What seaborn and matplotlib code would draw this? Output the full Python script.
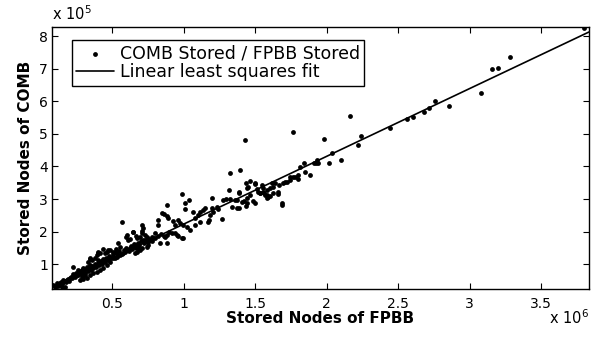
import matplotlib
matplotlib.use("Agg")
import matplotlib.pyplot as plt
import seaborn as sns
import pandas as pd

# ---- data (x in units of 1e6, y in units of 1e5) ----
fpbb_stored_e6 = [
    # lower-left dense band
    0.544, 0.556, 0.528, 0.505, 0.474, 0.451, 0.416, 0.393, 0.381, 0.404,
    0.358, 0.334, 0.346, 0.323, 0.299, 0.288, 0.264, 0.276, 0.253, 0.229,
    0.206, 0.183, 0.159, 0.136, 0.113, 0.090, 0.101, 0.124, 0.148, 0.171,
    0.299, 0.323, 0.346, 0.369, 0.393, 0.416, 0.439, 0.463, 0.486, 0.509,
    0.533, 0.556, 0.579, 0.603, 0.626, 0.649, 0.673, 0.276, 0.299, 0.288,
    0.311, 0.229, 0.346, 0.404, 0.463, 0.486, 0.521, 0.346, 0.404, 0.439,
    0.11, 0.12, 0.13, 0.14, 0.15, 0.16, 0.17, 0.18, 0.19, 0.20,
    0.21, 0.22, 0.23, 0.24, 0.25, 0.26, 0.27, 0.28, 0.29, 0.30,
    0.31, 0.32, 0.33, 0.34, 0.35, 0.36, 0.37, 0.38, 0.39, 0.40,
    0.41, 0.42, 0.43, 0.44, 0.45, 0.46, 0.47, 0.48, 0.49, 0.50,
    0.51, 0.52, 0.53, 0.54, 0.55, 0.57, 0.58, 0.59, 0.60, 0.62,
    0.63, 0.64, 0.65, 0.66, 0.67, 0.68, 0.69, 0.70, 0.72, 0.74,
    0.76, 0.78, 0.80, 0.82, 0.84, 0.86, 0.90, 0.92,
    0.572, 0.603, 0.614, 0.649, 0.645, 0.626, 0.598, 0.668, 0.677, 0.684,
    # middle cluster 0.65 - 1.3
    0.708, 0.719, 0.708, 0.712, 0.731, 0.743, 0.731, 0.750, 0.754, 0.743,
    0.708, 0.684, 0.696, 0.673, 0.661, 0.719, 0.696, 0.801, 0.778, 0.789,
    0.766, 0.848, 0.866, 0.883, 0.894, 0.824, 0.820, 0.929, 0.959, 0.976,
    0.999, 0.941, 1.022, 1.045, 0.941, 0.952, 0.964, 0.987, 0.999, 0.883,
    0.871, 0.836, 0.883, 0.987, 0.883, 1.010, 1.041, 1.010, 1.064, 1.201,
    1.201, 1.232, 1.243, 1.278, 1.295, 1.271, 1.178,
    1.080, 1.101, 1.115, 1.136, 1.150, 1.171, 1.080, 1.115, 1.185, 1.206,
    # upper band 1.3 - 1.9
    1.390, 1.372, 1.407, 1.442, 1.465, 1.488, 1.500, 1.453, 1.500, 1.512,
    1.558, 1.582, 1.605, 1.535, 1.582, 1.628, 1.663, 1.687, 1.640, 1.698,
    1.722, 1.745, 1.768, 1.803,
    1.766, 1.428, 1.327, 1.395, 1.318, 1.435, 1.467, 1.442, 1.500, 1.388,
    1.551, 1.617, 1.668, 1.710, 1.747, 1.780, 1.799, 1.840, 1.850, 1.885,
    1.817, 1.323, 1.360, 1.341, 1.372, 1.388, 1.425, 1.442, 1.437, 1.523,
    1.535, 1.558, 1.565, 1.570, 1.589, 1.605, 1.582, 1.663, 1.687, 1.628,
    # sparse right part
    1.932, 1.943, 1.925, 1.913, 1.985, 2.017, 2.041, 2.099, 2.162, 2.220,
    2.243, 2.444, 2.565, 2.603, 2.680, 2.719, 2.761, 2.855, 3.078, 3.159,
    3.199, 3.281, 3.801,
]

comb_stored_e5 = [
    1.64, 1.54, 1.46, 1.39, 1.44, 1.36, 1.34, 1.29, 1.18, 1.13,
    1.13, 1.08, 0.98, 0.93, 0.88, 0.83, 0.83, 0.72, 0.67, 0.64,
    0.57, 0.52, 0.47, 0.42, 0.42, 0.37, 0.29, 0.33, 0.29, 0.29,
    0.62, 0.57, 0.67, 0.72, 0.77, 0.83, 0.88, 0.98, 1.08, 1.18,
    1.23, 1.29, 1.34, 1.44, 1.49, 1.54, 1.59, 0.52, 0.54, 0.62,
    0.67, 0.93, 1.18, 1.39, 1.39, 1.44, 1.39, 1.15, 1.34, 1.46,
    0.33, 0.38, 0.36, 0.45, 0.40, 0.52, 0.48, 0.45, 0.55, 0.50,
    0.62, 0.58, 0.70, 0.60, 0.72, 0.68, 0.78, 0.70, 0.75, 0.80,
    0.72, 0.85, 0.78, 0.90, 0.82, 0.95, 0.88, 1.00, 0.92, 1.05,
    0.98, 1.10, 1.02, 1.15, 1.08, 1.20, 1.12, 1.25, 1.18, 1.22,
    1.30, 1.20, 1.35, 1.28, 1.40, 1.32, 1.45, 1.38, 1.50, 1.42,
    1.55, 1.48, 1.62, 1.55, 1.50, 1.66, 1.60, 1.70, 1.64, 1.72,
    1.78, 1.70, 1.82, 1.88, 1.92, 1.86, 2.00, 1.95,
    2.31, 1.90, 1.75, 2.00, 1.98, 1.77, 1.85, 1.87, 1.80, 1.49,
    2.21, 2.12, 2.03, 1.95, 1.90, 1.85, 1.75, 1.69, 1.59, 1.54,
    1.49, 1.49, 1.44, 1.39, 1.34, 1.75, 1.83, 1.95, 1.85, 1.80,
    1.75, 2.58, 2.53, 2.48, 2.41, 2.36, 2.21, 2.33, 2.36, 2.26,
    2.21, 2.21, 2.15, 2.05, 1.97, 1.90, 1.87, 1.80, 1.80, 1.90,
    1.83, 1.66, 1.66, 3.15, 2.82, 2.87, 2.97, 2.69, 2.61, 3.02,
    2.72, 2.77, 2.70, 2.97, 2.99, 2.38, 2.36,
    2.42, 2.51, 2.60, 2.66, 2.72, 2.30, 2.21, 2.30, 2.51, 2.60,
    3.18, 2.97, 2.92, 3.02, 3.13, 2.95, 2.87, 3.38, 3.48, 3.30,
    3.33, 3.28, 3.33, 3.18, 3.13, 3.18, 3.23, 2.87, 3.48, 3.48,
    3.53, 3.59, 3.69, 3.74,
    5.06, 4.82, 3.79, 3.89, 3.28, 3.48, 3.56, 3.33, 3.46, 3.21,
    3.43, 3.50, 3.42, 3.52, 3.69, 3.67, 3.63, 4.12, 3.84, 3.74,
    3.99, 2.99, 2.97, 2.77, 2.74, 2.74, 2.95, 2.89, 2.80, 3.23,
    3.20, 3.23, 3.18, 3.13, 3.05, 3.10, 3.02, 3.15, 2.82, 3.36,
    4.20, 4.12, 4.12, 4.12, 4.84, 4.12, 4.40, 4.20, 5.55, 4.67,
    4.94, 5.19, 5.47, 5.52, 5.66, 5.79, 6.01, 5.85, 6.25, 6.98,
    7.01, 7.37, 8.24,
]

fit_x_e6 = [0.08, 3.835]
fit_y_e5 = [0.316, 8.127]

x_ticks = [0.5, 1, 1.5, 2, 2.5, 3, 3.5]
x_tick_labels = ["0.5", "1", "1.5", "2", "2.5", "3", "3.5"]
y_ticks = [1, 2, 3, 4, 5, 6, 7, 8]
y_tick_labels = ["1", "2", "3", "4", "5", "6", "7", "8"]

scatter_label = "COMB Stored / FPBB Stored"
fit_label = "Linear least squares fit"

n = min(len(fpbb_stored_e6), len(comb_stored_e5))
pts = pd.DataFrame({"fpbb": fpbb_stored_e6[:n], "comb": comb_stored_e5[:n]})
fit = pd.DataFrame({"fpbb": fit_x_e6, "comb": fit_y_e5})

sns.set_style("ticks")
plt.rcParams["font.family"] = ["DejaVu Sans"]
plt.rcParams["text.color"] = "black"
plt.rcParams["axes.labelcolor"] = "black"

fig = plt.figure(figsize=(6.04, 3.37), dpi=100)
ax = fig.add_axes([52 / 604, 48 / 337, 537 / 604, 262 / 337])

sns.scatterplot(data=pts, x="fpbb", y="comb", ax=ax, color="black", s=12,
                linewidth=0, marker="o", label=scatter_label, zorder=3)
sns.lineplot(data=fit, x="fpbb", y="comb", ax=ax, color="black", lw=1.2,
             label=fit_label, zorder=2)

ax.set_xlim(0.08, 3.835)
ax.set_ylim(0.24, 8.28)
ax.set_xticks(x_ticks)
ax.set_xticklabels(x_tick_labels)
ax.set_yticks(y_ticks)
ax.set_yticklabels(y_tick_labels)
ax.tick_params(direction="in", length=4, width=0.8, top=True, right=True,
               labelsize=10, colors="black")
ax.tick_params(axis="x", pad=6)
ax.tick_params(axis="y", pad=3)
for sp in ax.spines.values():
    sp.set_visible(True)
    sp.set_linewidth(1.0)
    sp.set_color("black")

ax.set_xlabel("Stored Nodes of FPBB", fontsize=11, fontweight="bold", labelpad=0)
ax.set_ylabel("Stored Nodes of COMB", fontsize=11, fontweight="bold", labelpad=4)

ax.text(0.0, 1.015, r"x 10$^{5}$", transform=ax.transAxes, fontsize=10.5,
        ha="left", va="bottom")
ax.text(0.925, -0.134, r"x 10$^{6}$", transform=ax.transAxes, fontsize=10.5,
        ha="left", va="baseline")

handles, labels = ax.get_legend_handles_labels()
leg = ax.legend(handles, labels, loc="upper left", bbox_to_anchor=(0.037, 0.950),
                borderaxespad=0, fontsize=12.5, frameon=True, fancybox=False,
                edgecolor="black", framealpha=1, handlelength=2.2,
                handletextpad=0.3, labelspacing=0.05, borderpad=0.25,
                markerscale=1.0)
leg.get_frame().set_linewidth(1.0)

fig.savefig("out.png", dpi=100)
